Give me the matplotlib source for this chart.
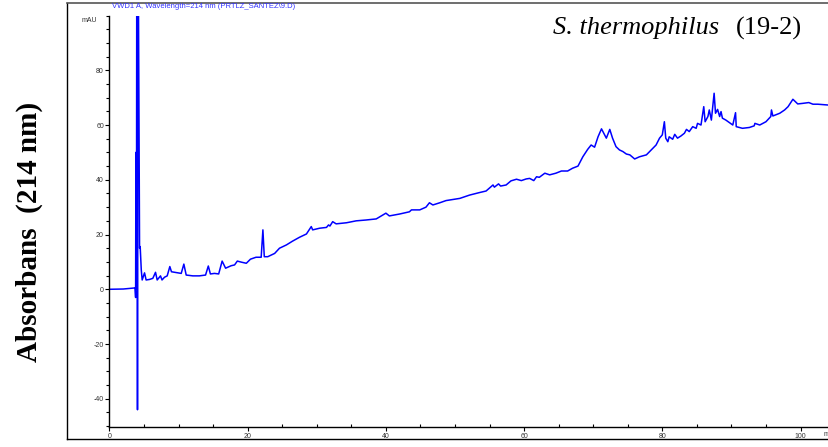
import matplotlib
matplotlib.use("Agg")
import matplotlib.pyplot as plt
from matplotlib.ticker import MultipleLocator
from matplotlib.lines import Line2D

# Retention time (min) and absorbance (mAU)
time_min = [
    0.0, 2.0, 3.7, 3.78, 3.82, 3.86, 3.9, 3.95, 4.0, 4.05, 4.1, 4.2, 4.35, 4.44,
    4.6, 4.73, 5.07, 5.3, 5.8, 6.27, 6.66, 6.9, 7.38, 7.6, 7.96, 8.35, 8.73, 8.97,
    9.65, 10.38, 10.76, 11.1, 12.06, 13.0, 13.9, 14.3, 14.6, 15.2, 15.8, 16.3,
    16.8, 17.6, 18.1, 18.5, 19.1, 19.8, 20.4, 21.2, 21.5, 21.95, 22.2, 22.4, 22.9,
    23.9, 24.6, 25.6, 26.5, 27.5, 28.5, 29.2, 29.4, 30.4, 31.4, 31.7, 31.9, 32.3,
    32.8, 34.3, 35.7, 37.1, 38.6, 40.0, 40.5, 42.0, 43.4, 43.7, 44.9, 45.8, 46.3,
    46.8, 47.3, 47.8, 48.7, 49.2, 50.7, 52.1, 53.5, 54.5, 55.5, 55.7, 56.3, 56.6,
    57.4, 58.1, 58.9, 59.6, 60.3, 60.8, 61.4, 61.8, 62.2, 63.0, 63.7, 64.6, 65.4,
    66.3, 67.0, 67.8, 68.5, 69.2, 69.7, 70.2, 70.7, 71.2, 71.9, 72.4, 72.8, 73.3,
    73.8, 74.3, 74.8, 75.3, 76.0, 76.7, 77.7, 78.4, 79.1, 79.6, 80.0, 80.3, 80.5,
    80.8, 81.0, 81.5, 81.8, 82.2, 82.7, 83.2, 83.5, 83.9, 84.4, 84.9, 85.1, 85.6,
    86.0, 86.2, 86.6, 86.8, 87.1, 87.5, 87.7, 88.0, 88.3, 88.5, 88.7, 89.2, 89.7,
    90.2, 90.6, 90.7, 91.6, 92.6, 93.3, 93.4, 94.1, 95.0, 95.7, 95.8, 96.0, 97.0,
    97.7, 98.2, 98.9, 99.6, 100.3, 101.2, 101.8, 102.5, 104.0,
]
absorbance_mau = [
    0.0, 0.1, 0.5, -3.0, 50.0, 48.0, 0.0, 130.0, 120.0, -44.0, 130.0, 100.0, 15.0, 15.6,
    7.0, 3.4, 6.0, 3.4, 3.6, 4.0, 6.2, 3.4, 4.9, 3.4, 4.4, 4.9, 8.3, 6.4,
    6.1, 5.8, 9.2, 5.2, 4.9, 4.9, 5.2, 8.5, 5.6, 5.8, 5.6, 10.3,
    7.7, 8.6, 8.9, 10.3, 9.9, 9.5, 11.0, 11.7, 11.7, 11.7, 21.7, 11.9, 11.9,
    13.1, 15.0, 16.2, 17.6, 19.0, 20.2, 22.9, 21.7, 22.3, 22.6, 23.5, 23.1, 24.7,
    23.9, 24.3, 25.0, 25.3, 25.7, 27.8, 26.8, 27.5, 28.3, 29.0, 29.0, 30.0, 31.6,
    30.8, 31.2, 31.6, 32.4, 32.6, 33.2, 34.4, 35.3, 35.9, 38.1, 37.3, 38.5, 37.7,
    38.1, 39.6, 40.2, 39.7, 40.3, 40.5, 39.7, 41.1, 40.9, 42.4, 41.8, 42.4, 43.2,
    43.2, 44.2, 45.0, 48.4, 51.1, 52.7, 51.9, 55.7, 58.6, 55.2, 58.4, 55.2, 52.1,
    50.9, 50.3, 49.4, 49.1, 47.6, 48.4, 49.1, 50.9, 52.7, 55.2, 56.4, 61.2, 55.2,
    53.9, 55.7, 54.8, 56.6, 55.2, 56.0, 57.0, 58.4, 57.6, 59.4, 58.8, 60.6, 60.0,
    66.7, 61.2, 63.1, 65.5, 61.8, 71.6, 64.3, 65.7, 63.1, 64.9, 62.5, 61.8, 60.9,
    60.0, 64.5, 59.4, 58.8, 59.1, 59.7, 60.6, 60.0, 61.2, 63.1, 65.5, 63.3, 64.3,
    65.5, 66.7, 69.4, 67.7, 67.9, 68.2, 67.6, 67.6, 67.3,
]
x_major = [0, 20, 40, 60, 80, 100]
y_major = [-40, -20, 0, 20, 40, 60, 80]

W, H = 829, 447
fig = plt.figure(figsize=(W / 100, H / 100), dpi=100)

left_px, right_px, bottom_px, top_px = 109.5, 829, 427, 15.5
ax = fig.add_axes([left_px / W, (H - bottom_px) / H,
                   (right_px - left_px) / W, (bottom_px - top_px) / H])
ax.plot(time_min, absorbance_mau, color="#0000ff", lw=1.1)
ax.set_xlim(0, (right_px - left_px) / 6.91)
ax.set_ylim(-50.3, 100)

for s in ["top", "right"]:
    ax.spines[s].set_visible(False)
for s in ["left", "bottom"]:
    ax.spines[s].set_linewidth(1.0)

ax.set_xticks(x_major)
ax.set_yticks(y_major)
ax.xaxis.set_minor_locator(MultipleLocator(5))
ax.yaxis.set_minor_locator(MultipleLocator(5))
tick_font = dict(family="Liberation Sans", size=5)
ax.set_xticklabels([str(v) for v in x_major], color="#333333", **tick_font)
ax.set_yticklabels([str(v) for v in y_major], color="#333333", **tick_font)
ax.tick_params(axis="x", which="major", direction="out", length=3, width=0.8, pad=1)
ax.tick_params(axis="x", which="minor", direction="in", length=2, width=0.8)
ax.tick_params(axis="y", which="major", direction="out", length=3, width=0.8, pad=1)
ax.tick_params(axis="y", which="minor", direction="out", length=2, width=0.8)

# outer frame
def fx(px):
    return px / W

def fy(py):
    return (H - py) / H

fig.add_artist(Line2D([fx(67), fx(67)], [fy(3), fy(439)], color="black", lw=1.0))
fig.add_artist(Line2D([fx(67), 1.0], [fy(3), fy(3)], color="#555555", lw=1.2))
fig.add_artist(Line2D([fx(67), 1.0], [fy(439), fy(439)], color="black", lw=1.0))

fig.text(fx(112), fy(7), "VWD1 A, Wavelength=214 nm (PRTLZ_SANTEZ\\9.D)",
         color="#3333ff", family="Liberation Sans", size=5.5, ha="left", va="center")
fig.text(fx(97), fy(20), "mAU", color="#333333", family="Liberation Sans",
         size=5, ha="right", va="center")
fig.text(fx(824), fy(434), "m", color="#333333", family="Liberation Sans",
         size=5, ha="left", va="center")

fig.text(fx(553), fy(28), "S. thermophilus", family="Liberation Serif",
         style="italic", size=19, ha="left", va="center")
fig.text(fx(802), fy(28), "(19-2)", family="Liberation Serif",
         size=19, ha="right", va="center")

fig.text(fx(29), fy(232), "Absorbans  (214 nm)", family="Liberation Serif",
         weight="bold", size=21, rotation=90, ha="center", va="center")

fig.savefig("out.png", dpi=100)
